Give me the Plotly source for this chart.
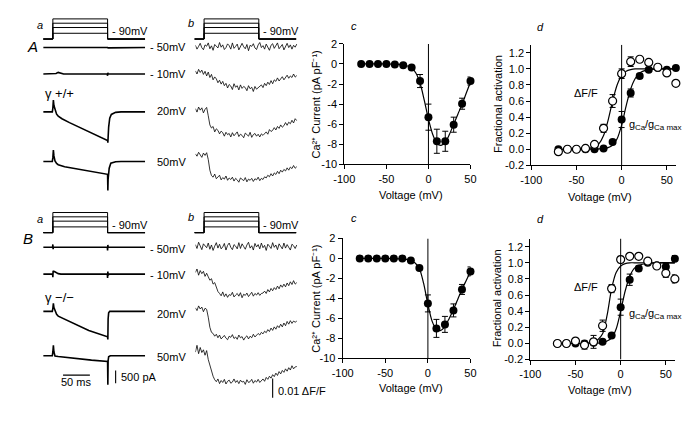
import numpy as np
import plotly.graph_objects as go

W, H = 696, 421
FONT = "Liberation Sans, Arial, sans-serif"

# ------------------------------------------------------------------ data
# voltage protocol
T_PULSE_ON, T_PULSE_OFF, T_END = 18, 120, 190      # ms
V_HOLD = -90                                        # mV
STEP_VOLTAGES = [-50, -10, 20, 50]
STEP_LABELS = ["- 50mV", "- 10mV", "20mV", "50mV"]

# Ca2+ currents (pA) -- gamma +/+ (row A)
IA_M50_T = [0, 18, 19, 120, 121, 190]
IA_M50_V = [0, 0, 15, 0, -15, 0]
IA_M10_T = [0, 20, 24, 28, 32, 38, 119.5, 120, 120.5, 121, 190]
IA_M10_V = [0, 0, 20, 65, 50, 0, 0, -70, 50, 0, 0]
IA_P20_T = [0, 17, 18, 19, 20, 22, 25, 28, 35, 49, 73, 98, 120, 120.5, 121, 122, 124, 127, 135, 145, 190]
IA_P20_V = [0, 0, 150, 470, 250, 60, -90, -165, -270, -425, -655, -900, -1130, -1220, -950, -600, -250, -100, -20, 0, 0]
IA_P50_T = [0, 17, 18, 19, 20, 22, 25, 28, 40, 67, 95, 120, 120.5, 121, 123, 126, 135, 145, 190]
IA_P50_V = [0, 0, 150, 450, 220, 20, -80, -130, -210, -320, -420, -510, -1150, -700, -270, -70, -10, 0, 0]

# Ca2+ currents (pA) -- gamma -/- (row B)
IB_M50_T = [0, 17.5, 18, 18.5, 19, 119.5, 120, 120.5, 121, 190]
IB_M50_V = [0, 0, 110, -80, 0, 0, -130, 90, 0, 0]
IB_M10_T = [0, 17.5, 18, 18.5, 19, 21, 24, 28, 33, 119.5, 120, 120.5, 121, 123, 190]
IB_M10_V = [0, 0, -120, 130, 110, 100, 60, 20, 0, 0, -150, 100, -40, 0, 0]
IB_P20_T = [0, 17, 18, 19, 20, 22, 25, 28, 55, 85, 120, 120.5, 121, 122, 124, 190]
IB_P20_V = [0, 0, 120, 320, 150, 0, -120, -190, -475, -760, -1010, -1115, -300, -60, 0, 0]
IB_P50_T = [0, 17, 18, 19, 20, 22, 28, 60, 90, 120, 120.5, 121, 122, 125, 190]
IB_P50_V = [0, 0, 150, 410, 150, -10, -30, -110, -175, -230, -1150, -200, -40, 0, 0]

# fluorescence (% dF/F), one sample every 3 ms
DT_FL = 3
FA_M50 = [0.08, -0.12, 0.02, 0.18, -0.05, -0.15, 0.1, 0.03, 0.2, -0.1, 0.05, -0.18, 0.12, 0.0, -0.06, 0.22,
          -0.02, 0.1, -0.14, -0.04, 0.15, 0.06, -0.12, 0.2, -0.08, 0.02, 0.14, -0.16, 0.05, 0.18, 0.0, -0.1,
          0.12, -0.2, 0.08, 0.02, 0.16, -0.06, -0.14, 0.1, 0.22, -0.04, 0.06, -0.12, 0.14, -0.02, -0.18, 0.08,
          0.16, -0.08, 0.04, 0.2, -0.1, 0.0, 0.12, -0.16, 0.06, 0.18, -0.04, 0.1, -0.12, 0.08, -0.02, 0.14]
FA_M10 = [0.06, -0.1, 0.14, -0.02, 0.1, -0.12, 0.04,
          -0.2, 0.0, -0.28, -0.12, -0.4, -0.25, -0.35, -0.55, -0.42, -0.62, -0.48,
          -0.7, -0.58, -0.82, -0.64, -0.72, -0.9, -0.6, -0.78, -0.7, -0.92, -0.66, -0.84, -0.74, -0.8, -0.96,
          -0.7, -0.86, -0.78, -1.0, -0.74, -0.88, -0.82, -0.76,
          -0.66, -0.8, -0.58, -0.7, -0.52, -0.64, -0.44, -0.6, -0.4, -0.48, -0.3, -0.46, -0.36, -0.24, -0.4,
          -0.3, -0.16, -0.32, -0.2, -0.28, -0.1, -0.26, -0.18]
FA_P20 = [0.12, -0.06, 0.2, 0.04, 0.16, -0.1, 0.08, 0.18,
          -0.25, -0.72, -0.88,
          -0.8, -1.08, -0.92, -1.0, -1.18, -1.04, -1.12, -1.3, -1.1, -1.22, -1.16, -1.34,
          -1.12, -1.28, -1.18, -1.08, -1.32, -1.2, -1.26, -1.38, -1.14, -1.24, -1.3, -1.1, -1.36, -1.22, -1.16,
          -1.3, -1.2, -1.34, -1.18, -1.26, -1.14,
          -1.08, -1.2, -0.96, -1.06, -1.0, -0.86, -0.98, -0.8, -0.9, -0.72, -0.84, -0.76, -0.6, -0.74,
          -0.58, -0.66, -0.48, -0.62, -0.4, -0.5]
FA_P50 = [0.14, 0.02, 0.22, 0.08, -0.04, 0.18, 0.06, 0.2,
          -0.15, -0.7, -0.98,
          -1.06, -0.9, -1.14, -1.02, -0.96, -1.2, -1.08, -1.16, -1.0, -1.22, -1.1, -1.18,
          -1.06, -1.26, -1.12, -1.2, -1.32, -1.1, -1.18, -1.24, -1.08, -1.3, -1.16, -1.22, -1.12, -1.28, -1.14,
          -1.2, -1.06, -1.24, -1.12, -1.18, -1.04,
          -1.1, -0.96, -1.04, -0.88, -1.0, -0.84, -0.92, -0.76, -0.88, -0.7, -0.8, -0.66, -0.74, -0.58,
          -0.7, -0.54, -0.62, -0.46, -0.6, -0.52]
FB_M50 = [0.12, -0.08, 0.24, 0.02, -0.14, 0.16, 0.06, -0.04, 0.2, -0.12, 0.1, -0.18, 0.04, 0.22, -0.06, 0.14,
          -0.1, 0.0, 0.18, -0.16, 0.08, 0.2, -0.02, -0.14, 0.12, 0.04, -0.1, 0.22, -0.08, 0.16, 0.02, -0.12,
          0.1, 0.24, -0.06, 0.06, -0.16, 0.18, 0.0, 0.12, -0.1, 0.2, -0.04, 0.08, -0.18, 0.14, 0.04, -0.08,
          0.22, -0.02, 0.1, -0.14, 0.16, 0.02, -0.1, 0.2, -0.06, 0.12, 0.0, -0.16, 0.14, 0.06, -0.08, 0.1]
FB_M10 = [0.12, 0.3, -0.02, 0.22, 0.06, 0.18, -0.08, 0.08,
          -0.1, -0.28, -0.2, -0.48, -0.4, -0.7, -0.86,
          -0.96, -1.08, -0.88, -1.12, -0.98, -1.16, -1.02, -1.06, -0.9, -1.14, -1.04, -0.96, -1.1, -0.92,
          -1.18, -1.0, -1.06, -0.94, -1.12, -1.02, -0.9, -1.1, -0.96, -1.04, -0.92, -1.06, -0.96,
          -0.94, -0.84, -0.96, -0.76, -0.88, -0.7, -0.82, -0.66, -0.76, -0.58, -0.72, -0.52, -0.64, -0.48,
          -0.62, -0.42, -0.56, -0.36, -0.5, -0.3, -0.48, -0.4]
FB_P20 = [0.18, 0.04, 0.28, 0.12, 0.22, -0.02, 0.16, 0.1,
          -0.3, -0.82, -1.08,
          -1.14, -1.28, -1.18, -1.36, -1.22, -1.42, -1.3, -1.24, -1.38, -1.46, -1.28, -1.34, -1.2, -1.4,
          -1.32, -1.44, -1.22, -1.36, -1.3, -1.48, -1.34, -1.26, -1.42, -1.28, -1.36, -1.18, -1.32,
          -1.24, -1.14, -1.22, -1.08, -1.16, -1.02, -1.1, -0.94, -1.04, -0.86, -0.98, -0.8, -0.92, -0.74,
          -0.84, -0.66, -0.8, -0.6, -0.74, -0.52, -0.66, -0.48, -0.62, -0.5, -0.56, -0.5]
FB_P50 = [0.1, 0.45, 0.02, 0.34, 0.08, 0.22, -0.06, 0.18,
          -0.28, -0.56, -0.92, -1.14, -1.32,
          -1.42, -1.28, -1.52, -1.36, -1.46, -1.3, -1.54, -1.4, -1.34, -1.5, -1.44, -1.28, -1.46, -1.36, -1.52,
          -1.34, -1.44, -1.4, -1.56, -1.32, -1.46, -1.42, -1.3, -1.5, -1.36, -1.44, -1.3, -1.46, -1.34,
          -1.28, -1.4, -1.2, -1.3, -1.14, -1.24, -1.06, -1.16, -0.98, -1.1, -0.9, -1.02, -0.84, -0.94,
          -0.76, -0.88, -0.7, -0.82, -0.6, -0.76, -0.66, -0.64]

# I-V relations (pA/pF)
V_IV = [-80, -70, -60, -50, -40, -30, -20, -10, 0, 10, 20, 30, 40, 50]
IV_A = [0, 0, 0, 0, -0.06, -0.13, -0.35, -1.7, -5.3, -7.7, -7.7, -6.05, -3.96, -1.7]
IV_A_ERR = [0, 0, 0, 0, 0, 0, 0.1, 0.65, 1.3, 1.2, 1.0, 0.75, 0.55, 0.4]
IV_B = [0, 0, 0, 0, 0, 0, -0.2, -0.95, -4.5, -7.0, -6.6, -5.2, -3.1, -1.3]
IV_B_ERR = [0, 0, 0, 0, 0, 0, 0.05, 0.15, 0.85, 0.9, 0.8, 0.65, 0.5, 0.45]
V_IV_FIT = [-80, -70, -60, -50, -40, -30, -25, -20, -15, -10, -5, 0, 5, 10, 15, 20, 25, 30, 35, 40, 45, 50]
IV_A_FIT = [0, 0, 0, 0, -0.02, -0.1, -0.2, -0.4, -0.9, -1.9, -3.6, -5.5, -7.0, -7.9, -8.1, -7.8, -7.0, -6.0,
            -5.0, -4.0, -2.9, -1.8]
IV_B_FIT = [0, 0, 0, 0, -0.01, -0.05, -0.1, -0.2, -0.45, -1.0, -2.5, -4.6, -6.3, -7.1, -7.2, -6.8, -6.0, -5.1,
            -4.1, -3.1, -2.2, -1.3]

# fractional activation
V_ACT = [-70, -60, -50, -40, -30, -20, -10, 0, 10, 20, 30, 40, 50, 60]
DFF_A = [-0.03, 0.0, 0.0, 0.01, 0.06, 0.26, 0.60, 0.94, 1.09, 1.12, 1.08, 1.02, 0.95, 0.82]
DFF_A_ERR = [0.02, 0, 0, 0.01, 0.02, 0.05, 0.08, 0.06, 0.06, 0.03, 0.02, 0.02, 0.03, 0.02]
GCA_A = [0.0, 0.0, 0.0, 0.0, 0.0, 0.01, 0.09, 0.37, 0.70, 0.91, 0.99, 1.01, 0.99, 1.01]
GCA_A_ERR = [0, 0, 0, 0, 0, 0, 0.02, 0.1, 0.05, 0.03, 0.02, 0.02, 0.02, 0.02]
DFF_B = [0.0, 0.0, 0.03, -0.02, 0.02, 0.22, 0.68, 1.04, 1.08, 1.08, 1.02, 0.96, 0.87, 0.80]
DFF_B_ERR = [0, 0, 0.01, 0.05, 0.08, 0.07, 0.05, 0.04, 0.02, 0.02, 0.02, 0.02, 0.05, 0.05]
GCA_B = [0.0, 0.0, 0.0, 0.0, 0.01, 0.02, 0.10, 0.45, 0.79, 0.93, 1.00, 0.97, 0.95, 1.05]
GCA_B_ERR = [0, 0, 0, 0, 0, 0, 0.02, 0.1, 0.07, 0.03, 0.02, 0.02, 0.04, 0.04]
V_ACT_FIT = [-70, -50, -40, -30, -25, -20, -15, -10, -5, 0, 5, 10, 15, 20, 30, 40, 60]
DFF_A_FIT = [0, 0, 0.005, 0.03, 0.07, 0.17, 0.36, 0.60, 0.80, 0.92, 0.97, 0.99, 1.0, 1.0, 1.0, 1.0, 1.0]
GCA_A_FIT = [0, 0, 0, 0.002, 0.005, 0.01, 0.02, 0.05, 0.13, 0.30, 0.54, 0.75, 0.88, 0.95, 0.99, 1.0, 1.0]
DFF_B_FIT = [0, 0, 0, 0.02, 0.05, 0.12, 0.35, 0.68, 0.88, 0.96, 0.99, 1.0, 1.0, 1.0, 1.0, 1.0, 1.0]
GCA_B_FIT = [0, 0, 0, 0.002, 0.005, 0.01, 0.03, 0.07, 0.18, 0.40, 0.65, 0.83, 0.93, 0.97, 0.99, 1.0, 1.0]

# axis ticks
IV_XTICKS = [-100, -50, 0, 50]
IV_YTICKS = [2, 0, -2, -4, -6, -8, -10]
ACT_XTICKS = [-100, -50, 0, 50]
ACT_YTICKS = [1.2, 1.0, 0.8, 0.6, 0.4, 0.2, 0.0, -0.2]

# scale bars
SCALE_MS, SCALE_PA, SCALE_DFF = 50, 500, 1.0

# ------------------------------------------------------------------ layout constants (pixels)
MS_PX = 0.55      # px per ms
PA_PX = 0.026     # px per pA
DFF_PX = 20.0     # px per % dF/F
MV_PX = 0.148     # px per mV (protocol)
A_X0, B_X0 = 33, 189

ROWS = {
    "A": dict(proto=34.0, cur=[42.7, 70, 109, 160], fl=[42, 68, 108, 155], lab=[42.7, 70, 108.3, 161],
              cur_data=[(IA_M50_T, IA_M50_V), (IA_M10_T, IA_M10_V), (IA_P20_T, IA_P20_V), (IA_P50_T, IA_P50_V)],
              fl_data=[FA_M50, FA_M10, FA_P20, FA_P50],
              c=dict(x0=341.7, x1=471, yt=39, yb=163), d=dict(x0=533.3, x1=681.5, yt=39.9, yb=164),
              iv=(IV_A, IV_A_ERR, IV_A_FIT),
              act=(DFF_A, DFF_A_ERR, GCA_A, GCA_A_ERR, DFF_A_FIT, GCA_A_FIT)),
    "B": dict(proto=233.3, cur=[248.3, 276, 314.3, 360], fl=[248, 276.7, 314.3, 358.3], lab=[250, 276.7, 316.7, 361.7],
              cur_data=[(IB_M50_T, IB_M50_V), (IB_M10_T, IB_M10_V), (IB_P20_T, IB_P20_V), (IB_P50_T, IB_P50_V)],
              fl_data=[FB_M50, FB_M10, FB_P20, FB_P50],
              c=dict(x0=340, x1=471, yt=239.3, yb=362.7), d=dict(x0=532.3, x1=680.5, yt=239.4, yb=364),
              iv=(IV_B, IV_B_ERR, IV_B_FIT),
              act=(DFF_B, DFF_B_ERR, GCA_B, GCA_B_ERR, DFF_B_FIT, GCA_B_FIT)),
}

# ------------------------------------------------------------------ helpers
layout = dict(width=W, height=H, autosize=False, margin=dict(l=0, r=0, t=0, b=0),
              paper_bgcolor="white", plot_bgcolor="rgba(0,0,0,0)", showlegend=False,
              font=dict(family=FONT, size=11, color="black"))
fig = go.Figure()
annotations, shapes = [], []
_n = [0]


def make_axes(x0, x1, xr, ytop, ybot, yr, xkw=None, ykw=None):
    _n[0] += 1
    s = "" if _n[0] == 1 else str(_n[0])
    base = dict(visible=False, showgrid=False, zeroline=False, fixedrange=True)
    xa = dict(base, domain=[max(0, x0 / W), min(1, x1 / W)], range=xr, anchor="y" + s)
    ya = dict(base, domain=[max(0, 1 - ybot / H), min(1, 1 - ytop / H)], range=yr, anchor="x" + s)
    if xkw:
        xa.update(xkw)
    if ykw:
        ya.update(ykw)
    layout["xaxis" + s] = xa
    layout["yaxis" + s] = ya
    return "x" + s, "y" + s


def row_axes(x0, base_px, px_per_unit, ref=0.0, band=45):
    ytop, ybot = max(0, base_px - band), min(H, base_px + band)
    yr = [ref - (ybot - base_px) / px_per_unit, ref + (base_px - ytop) / px_per_unit]
    return make_axes(x0, x0 + T_END * MS_PX, [0, T_END], ytop, ybot, yr)


def ann(text, x, y, size=11, xa="center", ya="middle", angle=0, italic=False):
    annotations.append(dict(text=text, x=x / W, y=1 - y / H, xref="paper", yref="paper", showarrow=False,
                            xanchor=xa, yanchor=ya, textangle=angle,
                            font=dict(family=FONT, size=size, color="black",
                                      style="italic" if italic else "normal")))


def line(xref, yref, x, y, width=1.0, **kw):
    fig.add_trace(go.Scatter(x=x, y=y, xaxis=xref, yaxis=yref, mode="lines", hoverinfo="skip",
                             line=dict(color="black", width=width, **kw)))


# ------------------------------------------------------------------ panels a and b
for key, R in ROWS.items():
    # protocols
    for px0 in (A_X0, B_X0 - 1):
        xr, yr = row_axes(px0, R["proto"], MV_PX, ref=V_HOLD, band=30)
        for v in STEP_VOLTAGES:
            line(xr, yr, [0, T_PULSE_ON, T_PULSE_ON, T_PULSE_OFF, T_PULSE_OFF, T_END],
                 [V_HOLD, V_HOLD, v, v, V_HOLD, V_HOLD], width=1.0)
    # currents
    for base, (t, v) in zip(R["cur"], R["cur_data"]):
        xr, yr = row_axes(A_X0, base, PA_PX)
        line(xr, yr, t, v, width=1.6)
    # fluorescence
    for base, f in zip(R["fl"], R["fl_data"]):
        xr, yr = row_axes(B_X0, base, DFF_PX)
        line(xr, yr, list(np.arange(len(f)) * DT_FL), f, width=0.8)
    # trace labels
    for ly, lab in zip(R["lab"], STEP_LABELS):
        ann(lab, 181, ly, xa="right")
    top = R["proto"]
    ann("- 90mV", 101.5, top - 8, xa="left")
    ann("- 90mV", 256.5, top - 8, xa="left")
    ann("a", 29.3, top - 14, italic=True)
    ann("b", 184, top - 16, italic=True)

ann("A", 22.5, 42, size=15, italic=True)
ann("B", 17.5, 239, size=15, italic=True)
ann("\u03b3 +/+", 50, 90.5, size=13)
ann("\u03b3 \u2212/\u2212", 50, 300, size=13)

# scale bars (row B)
xr, yr = row_axes(A_X0, 380, PA_PX)
line(xr, yr, [37, 37 + SCALE_MS], [0, 0], width=1.1)
xr, yr = row_axes(A_X0, 388.3, PA_PX)
line(xr, yr, [135, 135], [0, SCALE_PA], width=1.1)
xr, yr = row_axes(B_X0, 403.3, DFF_PX)
line(xr, yr, [144, 144], [0, SCALE_DFF], width=1.1)
ann("50 ms", 67, 387)
ann("500 pA", 110.5, 382, xa="left")
ann("0.01 \u0394F/F", 271.5, 396, xa="left")

# ------------------------------------------------------------------ panels c and d
axis_style = dict(visible=True, showline=True, linecolor="black", linewidth=1, ticks="outside", ticklen=4,
                  tickwidth=1, tickcolor="black", tickfont=dict(family=FONT, size=11, color="black"))


def tick_text(vals, fmt):
    return [fmt(v).replace("\u2212", "-") for v in vals]


for key, R in ROWS.items():
    c = R["c"]
    xr, yr = make_axes(c["x0"], c["x1"], [-100, 50], c["yt"], c["yb"], [-10, 2],
                       xkw=dict(axis_style, tickvals=IV_XTICKS, ticktext=tick_text(IV_XTICKS, lambda v: f"{v:d}")),
                       ykw=dict(axis_style, tickvals=IV_YTICKS, ticktext=tick_text(IV_YTICKS, lambda v: f"{v:d}")))
    shapes.append(dict(type="line", xref=xr, yref=yr, x0=0, x1=0, y0=-10, y1=2,
                       line=dict(color="black", width=1)))
    iv, iv_err, iv_fit = R["iv"]
    line(xr, yr, V_IV_FIT, iv_fit, width=1.2, shape="spline", smoothing=0.8)
    fig.add_trace(go.Scatter(x=V_IV, y=iv, xaxis=xr, yaxis=yr, mode="markers", cliponaxis=False,
                             marker=dict(color="black", size=8),
                             error_y=dict(type="data", array=iv_err, color="black", thickness=1, width=3)))

    d = R["d"]
    xr, yr = make_axes(d["x0"], d["x1"], [-100, 60], d["yt"], d["yb"], [-0.2, 1.3],
                       xkw=dict(axis_style, tickvals=ACT_XTICKS, ticktext=tick_text(ACT_XTICKS, lambda v: f"{v:d}")),
                       ykw=dict(axis_style, tickvals=ACT_YTICKS, ticktext=tick_text(ACT_YTICKS, lambda v: f"{v:.1f}")))
    shapes.append(dict(type="line", xref=xr, yref=yr, x0=0, x1=0, y0=-0.2, y1=1.3,
                       line=dict(color="black", width=1)))
    dff, dff_err, gca, gca_err, dff_fit, gca_fit = R["act"]
    line(xr, yr, V_ACT_FIT, dff_fit, width=1.2, shape="spline", smoothing=0.8)
    line(xr, yr, V_ACT_FIT, gca_fit, width=1.2, shape="spline", smoothing=0.8)
    fig.add_trace(go.Scatter(x=V_ACT, y=gca, xaxis=xr, yaxis=yr, mode="markers", cliponaxis=False,
                             marker=dict(color="black", size=8),
                             error_y=dict(type="data", array=gca_err, color="black", thickness=1, width=3)))
    fig.add_trace(go.Scatter(x=V_ACT, y=dff, xaxis=xr, yaxis=yr, mode="markers", cliponaxis=False,
                             marker=dict(color="white", size=8, line=dict(color="black", width=1.2)),
                             error_y=dict(type="data", array=dff_err, color="black", thickness=1, width=3)))

# panel c/d texts
for yc, yv, yl, ydf, yg in ((101, 195, 20.5, 90, 122.7), (301, 393.5, 218.3, 289.3, 317.3)):
    ann("Ca\u00b2\u207a Current (pA pF\u207b\u00b9)", 313, yc, angle=-90)
    ann("Fractional activation", 499, yc, angle=-90)
    ann("Voltage (mV)", 410.5, yv)
    ann("Voltage (mV)", 603.5, yv + 2)
    ann("c", 351.7, yl, italic=True)
    ann("d", 542.5, yl + 0.7, italic=True)
    ann("\u0394F/F", 589, ydf)
    # g_Ca / g_Ca max (subscripts drawn as smaller texts)
    ann("g", 631, yg - 1, xa="left")
    ann("Ca", 637.3, yg + 2.5, size=8, xa="left")
    ann("/g", 647.8, yg - 1, xa="left")
    ann("Ca max", 657.2, yg + 2.5, size=8, xa="left")

layout["annotations"] = annotations
layout["shapes"] = shapes
fig.update_layout(**layout)
fig.write_html("out.html", config={"displayModeBar": False, "staticPlot": True},
               post_script="document.body.style.margin='0px';document.body.style.overflow='hidden';")
